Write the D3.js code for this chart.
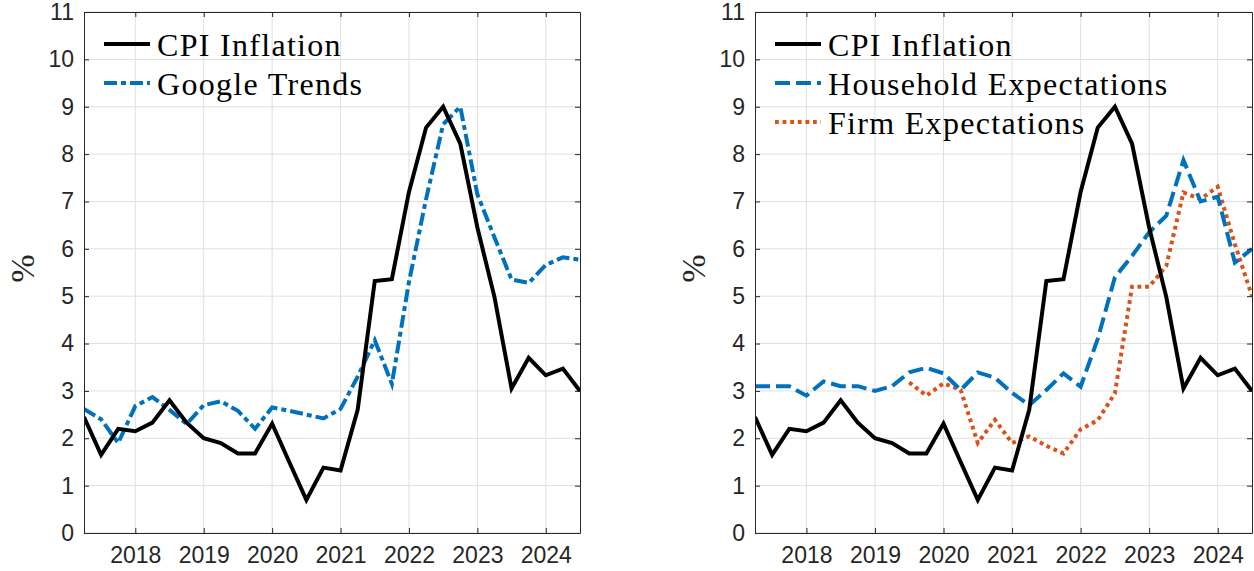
<!DOCTYPE html>
<html>
<head>
<meta charset="utf-8">
<script src="https://cdn.jsdelivr.net/npm/d3@7"></script>
<style>
  body { margin: 0; background: #fff; }
  svg text { font-family: "Liberation Sans", Arial, sans-serif; }
</style>
</head>
<body>
<div id="chart"></div>
<script>
// quarterly dates, 2017Q2 .. 2024Q3 (decimal years)
var quarters = [2017.25, 2017.5, 2017.75, 2018, 2018.25, 2018.5, 2018.75, 2019, 2019.25, 2019.5,
                2019.75, 2020, 2020.25, 2020.5, 2020.75, 2021, 2021.25, 2021.5, 2021.75, 2022,
                2022.25, 2022.5, 2022.75, 2023, 2023.25, 2023.5, 2023.75, 2024, 2024.25, 2024.5];

var cpi = [2.45, 1.65, 2.2, 2.15, 2.33, 2.8, 2.33, 2.0, 1.9, 1.68,
           1.68, 2.31, 1.5, 0.7, 1.38, 1.32, 2.6, 5.32, 5.36, 7.2,
           8.56, 9.0, 8.22, 6.45, 4.98, 3.05, 3.7, 3.33, 3.47, 3.0];

var googleTrends = [2.62, 2.4, 1.9, 2.68, 2.87, 2.6, 2.3, 2.7, 2.78, 2.58,
                    2.2, 2.65, 2.58, 2.5, 2.42, 2.62, 3.3, 4.07, 3.15, 5.3,
                    7.05, 8.63, 9.0, 7.15, 6.24, 5.35, 5.28, 5.66, 5.82, 5.77];

var household = [3.1, 3.1, 3.1, 2.9, 3.2, 3.1, 3.1, 3.0, 3.1, 3.39,
                 3.49, 3.37, 3.02, 3.39, 3.28, 2.96, 2.7, 3.02, 3.37, 3.09,
                 4.1, 5.4, 5.85, 6.35, 6.7, 7.87, 7.0, 7.1, 5.71, 6.0];

// firm expectations start in 2019Q3
var firm = [null, null, null, null, null, null, null, null, null, 3.18,
            2.9, 3.16, 3.02, 1.9, 2.39, 1.9, 2.04, 1.84, 1.68, 2.19,
            2.38, 2.95, 5.2, 5.2, 5.64, 7.19, 7.05, 7.31, 6.1, 5.0];

var yearTicks = [2018, 2019, 2020, 2021, 2022, 2023, 2024];
var yTicks = [0, 1, 2, 3, 4, 5, 6, 7, 8, 9, 10, 11];

var blue = "#0072BD", orange = "#D95319", axisCol = "#262626", gridCol = "#dfdfdf";

var W = 1254, H = 571;
var svg = d3.select("#chart").append("svg").attr("width", W).attr("height", H);

var panels = [
  { left: 84, right: 580, series: [
      { name: "CPI Inflation", data: cpi, color: "#000", dash: null },
      { name: "Google Trends", data: googleTrends, color: blue, dash: "13,4,5,4" } ] },
  { left: 755, right: 1252, series: [
      { name: "CPI Inflation", data: cpi, color: "#000", dash: null },
      { name: "Household Expectations", data: household, color: blue, dash: "15,6" },
      { name: "Firm Expectations", data: firm, color: orange, dash: "3.8,3.8" } ] }
];

var plotTop = 12, plotBottom = 533;
var lw = 4;

panels.forEach(function (p) {
  var x = d3.scaleLinear().domain([2017.25, 2024.5]).range([p.left, p.right]);
  var y = d3.scaleLinear().domain([0, 11]).range([plotBottom, plotTop]);
  var g = svg.append("g");

  // grid
  g.selectAll(".gx").data(yearTicks).enter().append("line")
    .attr("x1", d => x(d)).attr("x2", d => x(d)).attr("y1", plotTop).attr("y2", plotBottom)
    .attr("stroke", gridCol).attr("stroke-width", 1);
  g.selectAll(".gy").data(yTicks).enter().append("line")
    .attr("x1", p.left).attr("x2", p.right).attr("y1", d => y(d)).attr("y2", d => y(d))
    .attr("stroke", gridCol).attr("stroke-width", 1);

  // lines
  var clipId = "clip" + p.left;
  svg.append("clipPath").attr("id", clipId).append("rect")
    .attr("x", p.left).attr("y", plotTop - 3).attr("width", p.right - p.left).attr("height", plotBottom - plotTop + 6);
  var line = d3.line().defined(d => d[1] != null).x(d => x(d[0])).y(d => y(d[1]));
  p.series.slice().reverse().forEach(function (s) {
    g.append("path")
      .datum(quarters.map((q, i) => [q, s.data[i]]))
      .attr("d", line)
      .attr("clip-path", "url(#" + clipId + ")")
      .attr("fill", "none").attr("stroke", s.color).attr("stroke-width", lw)
      .attr("stroke-linejoin", "miter")
      .attr("stroke-dasharray", s.dash);
  });

  // axes box with inward ticks
  var xb = d3.axisBottom(x).tickValues(yearTicks).tickFormat(d3.format("d")).tickSizeInner(-5).tickSizeOuter(0).tickPadding(14);
  var yl = d3.axisLeft(y).tickValues(yTicks).tickSizeInner(-5).tickSizeOuter(0).tickPadding(10);
  var xt = d3.axisTop(x).tickValues(yearTicks).tickFormat("").tickSizeInner(-5).tickSizeOuter(0);
  var yr = d3.axisRight(y).tickValues(yTicks).tickFormat("").tickSizeInner(-5).tickSizeOuter(0);
  [[xb, "translate(0," + plotBottom + ")"], [yl, "translate(" + p.left + ",0)"],
   [xt, "translate(0," + plotTop + ")"], [yr, "translate(" + p.right + ",0)"]].forEach(function (a) {
    var ax = g.append("g").attr("transform", a[1]).call(a[0]);
    ax.select(".domain").attr("stroke", axisCol).attr("stroke-width", 1);
    ax.selectAll(".tick line").attr("stroke", axisCol);
    ax.selectAll("text").attr("fill", axisCol).style("font-size", "23px")
      .style("font-family", "'Liberation Sans', Arial, sans-serif");
  });

  // y label
  g.append("text").text("%")
    .attr("transform", "translate(" + (p.left - 62) + "," + ((plotTop + plotBottom) / 2 - 4) + ") rotate(-90)")
    .attr("text-anchor", "middle").attr("dominant-baseline", "central")
    .style("font-family", "'Liberation Serif', serif").style("font-size", "34px").attr("fill", axisCol);

  // legend
  p.series.forEach(function (s, i) {
    var ly = 44 + i * 39;
    g.append("line").attr("x1", p.left + 20).attr("x2", p.left + 66).attr("y1", ly).attr("y2", ly)
      .attr("stroke", s.color).attr("stroke-width", lw).attr("stroke-dasharray", s.dash);
    g.append("text").text(s.name).attr("x", p.left + 73).attr("y", ly + 1)
      .attr("dominant-baseline", "central")
      .style("font-family", "'Liberation Serif', serif").style("font-size", "32px")
      .style("letter-spacing", "1.3px").attr("fill", "#000");
  });
});
</script>
</body>
</html>
